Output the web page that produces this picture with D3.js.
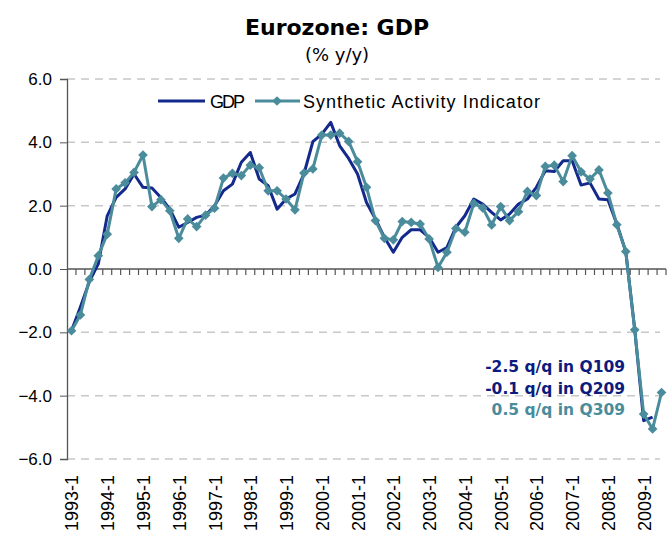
<!DOCTYPE html>
<html>
<head>
<meta charset="utf-8">
<script src="https://cdn.jsdelivr.net/npm/d3@7"></script>
<style>
  body { margin: 0; background: #fff; }
  text { font-family: "DejaVu Sans", Verdana, sans-serif; }
</style>
</head>
<body>
<div id="chart"></div>
<script>
// quarters 1993-1 .. 2009-3
var years = d3.range(1993, 2010);
var quarters = [];
years.forEach(function(y) {
  [1, 2, 3, 4].forEach(function(q) {
    if (y < 2009 || q <= 3) quarters.push(y + "-" + q);
  });
});

var gdp = [-1.95, -1.2, -0.4, 0.16, 1.68, 2.26, 2.53, 3.0, 2.58, 2.56,
           2.26, 1.89, 1.32, 1.47, 1.63, 1.7, 2.0, 2.47, 2.68, 3.37,
           3.68, 2.84, 2.63, 1.89, 2.21, 2.37, 3.0, 4.02, 4.26, 4.63,
           3.89, 3.49, 3.0, 2.1, 1.58, 1.0, 0.53, 1.0, 1.24, 1.24,
           1.0, 0.53, 0.68, 1.32, 1.68, 2.21, 2.05, 1.79, 1.55, 1.74,
           2.05, 2.21, 2.58, 3.1, 3.08, 3.42, 3.42, 2.65, 2.72, 2.21,
           2.19, 1.42, 0.55, -1.9, -4.79, -4.68, null];

var sai = [-1.95, -1.45, -0.33, 0.42, 1.1, 2.53, 2.72, 3.05, 3.6, 1.97,
           2.19, 1.84, 0.97, 1.58, 1.34, 1.7, 1.92, 2.87, 3.02, 2.95,
           3.28, 3.2, 2.47, 2.47, 2.21, 1.87, 3.03, 3.16, 4.23, 4.23,
           4.29, 4.03, 3.39, 2.58, 1.53, 0.97, 0.92, 1.5, 1.47, 1.42,
           0.95, 0.05, 0.53, 1.28, 1.16, 2.07, 1.93, 1.39, 1.97, 1.53,
           1.81, 2.45, 2.32, 3.24, 3.28, 2.76, 3.58, 3.07, 2.84, 3.13,
           2.4, 1.4, 0.55, -1.92, -4.58, -5.05, -3.9];

var yTicks = [6, 4, 2, 0, -2, -4, -6];
var notes = ["-2.5 q/q in Q109", "-0.1 q/q in Q209", "0.5 q/q in Q309"];

var gdpColor = "#13298c", saiColor = "#4a8c9b", noteNavy = "#0c1b7d";
var sans = "'Liberation Sans', Arial, sans-serif";

var W = 671, H = 538;
var margin = {top: 79, right: 5, bottom: 79, left: 67};
var width = W - margin.left - margin.right,
    height = H - margin.top - margin.bottom;

var svg = d3.select("#chart").append("svg")
    .attr("width", W).attr("height", H);

svg.append("text").attr("x", 337).attr("y", 35)
  .attr("text-anchor", "middle").attr("font-size", 22).attr("font-weight", "bold")
  .text("Eurozone: GDP");
svg.append("text").attr("x", 337).attr("y", 61)
  .attr("text-anchor", "middle").attr("font-size", 18)
  .text("(% y/y)");

var g = svg.append("g")
  .attr("transform", "translate(" + margin.left + "," + margin.top + ")");

var x = d3.scaleBand().domain(quarters).range([0, width]);
var cx = function(i) { return x(quarters[i]) + x.bandwidth() / 2; };
var y = d3.scaleLinear().domain([-6, 6]).range([height, 0]);

// gridlines
g.selectAll(".grid").data(yTicks.filter(function(d) { return d !== 0; }))
  .enter().append("line")
  .attr("x1", 0).attr("x2", width - 6)
  .attr("y1", function(d) { return y(d); }).attr("y2", function(d) { return y(d); })
  .attr("stroke", "#c8c8c8").attr("stroke-width", 1.5)
  .attr("stroke-dasharray", "8,6");

// y axis
var yAxis = g.append("g").call(d3.axisLeft(y).tickValues(yTicks)
    .tickFormat(d3.format(".1f")).tickSize(7).tickPadding(8));
yAxis.select(".domain").attr("stroke", "#555").attr("stroke-width", 1.3);
yAxis.selectAll(".tick line").attr("stroke", "#555");
yAxis.selectAll("text").attr("font-size", 17).attr("fill", "#000")
  .style("font-family", sans);

// zero line with category ticks
var zero = g.append("g").attr("transform", "translate(0," + y(0) + ")");
zero.append("line").attr("x1", 0).attr("x2", width)
  .attr("stroke", "#555").attr("stroke-width", 1.5);
zero.selectAll(".qt").data(quarters).enter().append("line")
  .attr("x1", function(d) { return x(d) + x.bandwidth(); })
  .attr("x2", function(d) { return x(d) + x.bandwidth(); })
  .attr("y1", 0).attr("y2", 6)
  .attr("stroke", "#555").attr("stroke-width", 1.2);

// x labels (every year's first quarter)
g.append("g").selectAll("text")
  .data(quarters.filter(function(d, i) { return i % 4 === 0; }))
  .enter().append("text")
  .attr("transform", function(d) {
    return "translate(" + (x(d) + x.bandwidth() / 2 + 7) + "," + (height + 16) + ") rotate(-90)";
  })
  .attr("text-anchor", "end")
  .attr("font-size", 18)
  .style("font-family", sans)
  .text(function(d) { return d; });

// lines
var line = d3.line()
  .defined(function(d) { return d != null; })
  .x(function(d, i) { return cx(i); })
  .y(function(d) { return y(d); });

g.append("path").datum(gdp).attr("d", line)
  .attr("fill", "none").attr("stroke", gdpColor).attr("stroke-width", 3)
  .attr("stroke-linejoin", "round");
g.append("path").datum(sai).attr("d", line)
  .attr("fill", "none").attr("stroke", saiColor).attr("stroke-width", 3)
  .attr("stroke-linejoin", "round");

var diamond = d3.symbol().type(d3.symbolDiamond2).size(60);
g.selectAll(".pt").data(sai).enter().append("path")
  .attr("d", diamond)
  .attr("transform", function(d, i) { return "translate(" + cx(i) + "," + y(d) + ")"; })
  .attr("fill", saiColor);

// legend
var lg = svg.append("g").attr("transform", "translate(0,101)");
lg.append("line").attr("x1", 158).attr("x2", 205).attr("stroke", gdpColor).attr("stroke-width", 3);
lg.append("text").attr("x", 210).attr("y", 6.5).attr("font-size", 18)
  .attr("textLength", 35).style("font-family", sans).text("GDP");
lg.append("line").attr("x1", 255).attr("x2", 300).attr("stroke", saiColor).attr("stroke-width", 3);
lg.append("path").attr("d", diamond).attr("transform", "translate(277,0)").attr("fill", saiColor);
lg.append("text").attr("x", 303).attr("y", 6.5).attr("font-size", 18)
  .attr("textLength", 237).style("font-family", sans).text("Synthetic Activity Indicator");

// annotations
svg.selectAll(".note").data(notes).enter().append("text")
  .attr("x", 625).attr("y", function(d, i) { return 372 + i * 21.5; })
  .attr("text-anchor", "end").attr("font-size", 15.5).attr("font-weight", "bold")
  .attr("fill", function(d, i) { return i < 2 ? noteNavy : saiColor; })
  .text(function(d) { return d; });
</script>
</body>
</html>
